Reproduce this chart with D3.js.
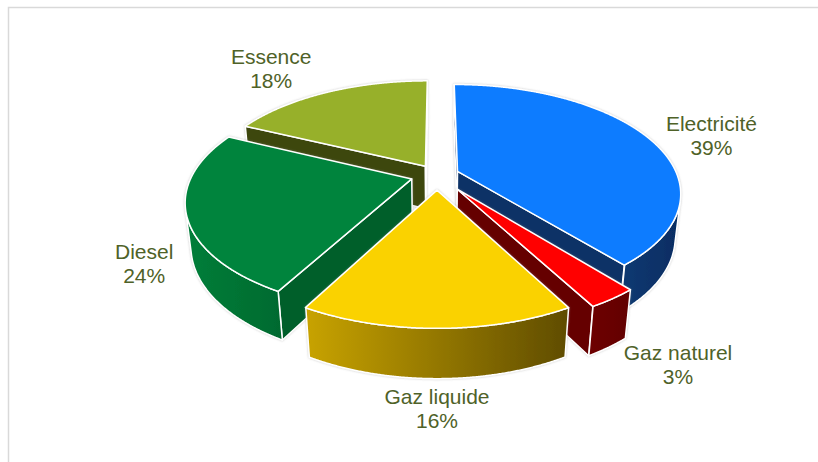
<!DOCTYPE html>
<html>
<head>
<meta charset="utf-8">
<script src="https://cdn.jsdelivr.net/npm/d3@7"></script>
<style>
  body { margin: 0; background: #fff; }
  text { font-family: Arial, "Liberation Sans", sans-serif; }
</style>
</head>
<body>
<div id="chart"></div>
<script>
// data
var categories = ['Electricité', 'Gaz naturel', 'Gaz liquide', 'Diesel', 'Essence']
var shares = [39, 3, 16, 24, 18]
var pctLabels = ['39%', '3%', '16%', '24%', '18%']

// layout
var width = 818
var height = 462
var cam = { elev: 27.8 * Math.PI / 180, dist: 4.59, focal: 1033, xAspect: 0.976 }
var pieCenter = { x: 437, y: 175 }
var depth = 0.22
var explode = [0.10, 0.16, 0.14, 0.12, 0.10]
var labelAt = [
  { r: 1.46, z: -0.04 },
  { r: 1.50, z: -0.075 },
  { r: 1.426, z: -0.11 },
  { r: 1.32, z: -0.2 },
  { r: 1.85, z: -0.117 }
]
var topColors = ['#0b7bff', '#ff0000', '#fad200', '#02843c', '#97b02a']
var wallColors = ['#0a3166', '#650000', '#7a6400', '#005e29', '#3e4711']
var outerGrad = [
  ['#0c3a72', '#062c62'],
  ['#6e0000', '#620000'],
  ['#c8a300', '#5f4c00'],
  ['#007e39', '#006a2f'],
  ['#4a5614', '#3e4711']
]
var labelColor = '#4f6228'

var svg = d3.select('#chart')
  .append('svg')
  .attr('width', width)
  .attr('height', height)

var defs = svg.append('defs')
defs.append('filter')
  .attr('id', 'soft')
  .attr('x', '-10%').attr('y', '-10%').attr('width', '120%').attr('height', '120%')
  .append('feDropShadow')
  .attr('dx', 0).attr('dy', 0).attr('stdDeviation', 1.2)
  .attr('flood-color', '#888').attr('flood-opacity', 0.45)

// frame
svg.append('rect')
  .attr('x', 8.5).attr('y', 7.5)
  .attr('width', width + 20).attr('height', height + 20)
  .attr('fill', 'none')
  .attr('stroke', '#d9d9d9')
  .attr('stroke-width', 1.5)

// projection
var cosE = Math.cos(cam.elev), sinE = Math.sin(cam.elev)
var camPos = [0, cam.dist * cosE, cam.dist * sinE]
var sx = d3.scaleLinear().domain([0, 1]).range([pieCenter.x, pieCenter.x + cam.focal * cam.xAspect])
var sy = d3.scaleLinear().domain([0, 1]).range([pieCenter.y, pieCenter.y - cam.focal])

function project(p) {
  var t = p[1] * cosE + p[2] * sinE
  var u = -p[1] * sinE + p[2] * cosE
  var w = cam.dist - t
  return [sx(p[0] / w), sy(u / w)]
}
function facing(n, p) {
  return n[0] * (camPos[0] - p[0]) + n[1] * (camPos[1] - p[1]) + n[2] * (camPos[2] - p[2]) > 0
}

var line = d3.line()
function poly(pts) { return line(pts.map(project)) + 'Z' }

var arcs = d3.pie().sort(null).value(d => d)(shares)

var slices = arcs.map((a, i) => {
  var mid = (a.startAngle + a.endAngle) / 2
  var o = [explode[i] * Math.sin(mid), -explode[i] * Math.cos(mid)]
  var rim = (ang, z) => [o[0] + Math.sin(ang), o[1] - Math.cos(ang), z]
  var cen = [o[0] + 0.5 * Math.sin(mid), o[1] - 0.5 * Math.cos(mid), 0]
  var dz = cam.dist - (cen[1] * cosE)
  return { i: i, a0: a.startAngle, a1: a.endAngle, mid: mid, o: o, rim: rim, d: dz }
})
slices.sort((p, q) => q.d - p.d)

var step = Math.PI / 720
slices.forEach(s => {
  var g = svg.append('g').attr('filter', 'url(#soft)')
  var apexTop = [s.o[0], s.o[1], 0]
  var apexBot = [s.o[0], s.o[1], -depth]

  // radial walls
  ;[[s.a0, -1], [s.a1, 1]].forEach(w => {
    var n = [w[1] * Math.cos(w[0]), w[1] * Math.sin(w[0]), 0]
    if (!facing(n, apexTop)) return
    g.append('path')
      .attr('d', poly([apexTop, s.rim(w[0], 0), s.rim(w[0], -depth), apexBot]))
      .attr('fill', wallColors[s.i])
      .attr('stroke', '#fff')
      .attr('stroke-width', 1.5)
      .attr('stroke-linejoin', 'round')
  })

  // outer wall (front facing part)
  var vis = []
  for (var a = s.a0; a <= s.a1 + 1e-9; a += step) {
    var ang = Math.min(a, s.a1)
    var p = s.rim(ang, 0)
    if (facing([Math.sin(ang), -Math.cos(ang), 0], p)) vis.push(ang)
  }
  if (vis.length > 1) {
    var top = vis.map(v => s.rim(v, 0))
    var bot = vis.map(v => s.rim(v, -depth)).reverse()
    var xs = top.concat(bot).map(p => project(p)[0])
    var gid = 'wall' + s.i
    var lg = defs.append('linearGradient')
      .attr('id', gid)
      .attr('gradientUnits', 'userSpaceOnUse')
      .attr('x1', d3.min(xs)).attr('x2', d3.max(xs))
      .attr('y1', 0).attr('y2', 0)
    lg.append('stop').attr('offset', '0%').attr('stop-color', outerGrad[s.i][0])
    lg.append('stop').attr('offset', '100%').attr('stop-color', outerGrad[s.i][1])
    g.append('path')
      .attr('d', poly(top.concat(bot)))
      .attr('fill', 'url(#' + gid + ')')
      .attr('stroke', '#fff')
      .attr('stroke-width', 1.5)
      .attr('stroke-linejoin', 'round')
  }

  // top face
  var pts = [apexTop]
  for (var b = s.a0; b <= s.a1 + 1e-9; b += step) pts.push(s.rim(Math.min(b, s.a1), 0))
  pts.push(s.rim(s.a1, 0))
  g.append('path')
    .attr('d', poly(pts))
    .attr('fill', topColors[s.i])
    .attr('stroke', '#fff')
    .attr('stroke-width', 1.5)
    .attr('stroke-linejoin', 'round')
})

// labels
arcs.forEach((a, i) => {
  var mid = (a.startAngle + a.endAngle) / 2
  var la = labelAt[i]
  var c = project([la.r * Math.sin(mid), -la.r * Math.cos(mid), la.z])
  var t = svg.append('text')
    .attr('text-anchor', 'middle')
    .attr('fill', labelColor)
    .attr('font-size', '21px')
  t.append('tspan').attr('x', c[0]).attr('y', c[1] - 4).text(categories[i])
  t.append('tspan').attr('x', c[0]).attr('y', c[1] + 20).text(pctLabels[i])
})
</script>
</body>
</html>
